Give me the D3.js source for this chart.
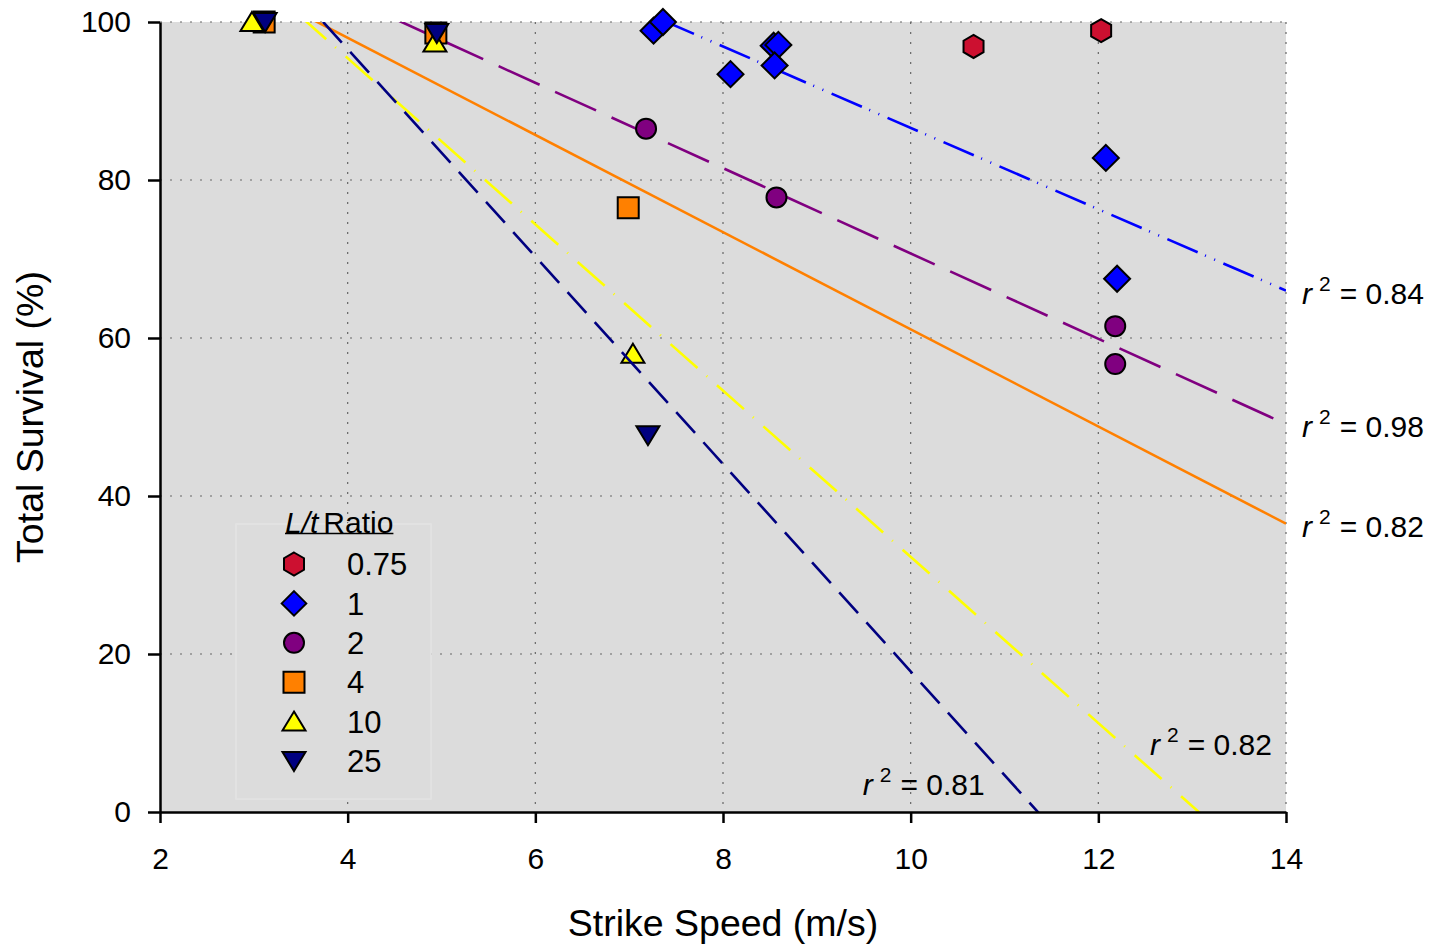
<!DOCTYPE html>
<html>
<head>
<meta charset="utf-8">
<script src="https://cdn.jsdelivr.net/npm/d3@7"></script>
<style>
body{margin:0;background:#fff;}
text{font-family:Arial,"Liberation Sans",sans-serif;fill:#000;}
</style>
</head>
<body>
<div id="graph"></div>
<script>
// L/t ratio groups
var ratios = ['0.75', '1', '2', '4', '10', '25']

// [strike speed (m/s), total survival (%)]
var pts075 = [[10.67, 96.9], [12.03, 98.9]]
var pts1 = [[7.26, 98.9], [7.36, 100], [8.08, 93.4], [8.54, 97.0], [8.59, 97.1], [8.55, 94.5], [12.08, 82.8], [12.2, 67.5]]
var pts2 = [[7.18, 86.5], [8.57, 77.8], [12.18, 61.5], [12.18, 56.7]]
var pts4 = [[3.11, 100], [4.94, 98.6], [6.99, 76.5]]
var pts10 = [[2.98, 100], [4.93, 97.4], [7.04, 58.0]]
var pts25 = [[3.12, 100], [4.95, 98.6], [7.2, 47.7]]

// linear fits (none for 0.75)
var fitIntercept = [null, 138.1, 124.7, 122.6, 137.5, 149.1]
var fitSlope = [null, -5.15, -5.40, -6.15, -10.52, -13.13]
var r2 = [null, 0.84, 0.98, 0.82, 0.82, 0.81]
// where the two lower r2 labels sit (data units); others go at the line end
var r2LabelAt = [null, null, null, null, [12.55, 7.2], [9.49, 2.15]]

var xTicks = [2, 4, 6, 8, 10, 12, 14]
var yTicks = [0, 20, 40, 60, 80, 100]

var colors = ['#cc1030', '#0000ff', '#800080', '#ff8000', '#ffff00', '#000080']
var shapes = ['hexagon', 'diamond', 'circle', 'square', 'up', 'down']
var dashes = [null, '33,8,1,9,1,9', '45,17', null, '36,12,1,13', '28,12.5']

var series = ratios.map((r, i) => ({
	i, ratio: r,
	pts: [pts075, pts1, pts2, pts4, pts10, pts25][i],
	a: fitIntercept[i], b: fitSlope[i], r2: r2[i], at: r2LabelAt[i],
	color: colors[i], shape: shapes[i], dash: dashes[i]
}))

var W = 1439, H = 946
var m = {top: 22, left: 160, right: 153, bottom: 134}
var width = W - m.left - m.right
var height = H - m.top - m.bottom

var svg = d3.select('#graph').append('svg').attr('width', W).attr('height', H)
var g = svg.append('g').attr('transform', `translate(${m.left},${m.top})`)

var x = d3.scaleLinear().domain([2, 14]).range([0, width])
var y = d3.scaleLinear().domain([0, 100]).range([height, 0])

g.append('rect').attr('width', width).attr('height', height).attr('fill', '#dcdcdc')

// dotted grid
g.selectAll('line.gx').data(xTicks.slice(1)).join('line')
	.attr('x1', d => x(d)).attr('x2', d => x(d)).attr('y1', 0).attr('y2', height)
	.attr('stroke', '#666').attr('stroke-width', 1.2).attr('stroke-dasharray', '2,8')
g.selectAll('line.gy').data(yTicks.slice(1)).join('line')
	.attr('x1', 0).attr('x2', width).attr('y1', d => y(d)).attr('y2', d => y(d))
	.attr('stroke', '#666').attr('stroke-width', 1.2).attr('stroke-dasharray', '2,8')

svg.append('clipPath').attr('id', 'clip').append('rect').attr('width', width).attr('height', height)

function shapePath(s){
	if (s == 'hexagon') return 'M0,-11.5L10,-5.75L10,5.75L0,11.5L-10,5.75L-10,-5.75Z'
	if (s == 'diamond') return 'M0,-13L13,0L0,13L-13,0Z'
	if (s == 'circle') return 'M10,0A10,10 0 1,1 -10,0A10,10 0 1,1 10,0Z'
	if (s == 'square') return 'M-10.5,-10.5H10.5V10.5H-10.5Z'
	if (s == 'up') return 'M0,-10L11.5,9L-11.5,9Z'
	return 'M0,10L11.5,-9L-11.5,-9Z'
}

var fitLine = d3.line().x(d => x(d[0])).y(d => y(d[1]))

series.forEach(s => {
	if (s.a != null){
		g.append('path')
			.attr('clip-path', 'url(#clip)')
			.attr('d', fitLine([[2, s.a + s.b*2], [14, s.a + s.b*14]]))
			.attr('fill', 'none').attr('stroke', s.color).attr('stroke-width', 2.6)
			.attr('stroke-dasharray', s.dash)
	}
	g.selectAll(null).data(s.pts).join('path')
		.attr('transform', d => `translate(${x(d[0])},${y(d[1])})`)
		.attr('d', shapePath(s.shape))
		.attr('fill', s.color).attr('stroke', '#000').attr('stroke-width', 2)
})

// r2 labels
series.filter(d => d.r2 != null).forEach(s => {
	var px = s.at ? x(s.at[0]) : width + 16
	var py = s.at ? y(s.at[1]) : y(s.a + s.b*14) + 13
	var t = g.append('text').attr('x', px).attr('y', py).attr('font-size', 30)
	t.append('tspan').attr('font-style', 'italic').text('r')
	t.append('tspan').attr('font-size', 21).attr('dx', 7).attr('dy', -13).text('2')
	t.append('tspan').attr('dx', 9).attr('dy', 13).text('= ' + s.r2.toFixed(2))
})

// axes
var yAxis = g.append('g').call(d3.axisLeft(y).tickValues(yTicks).tickSize(12).tickSizeOuter(0).tickPadding(17))
var xAxis = g.append('g').attr('transform', `translate(0,${height})`)
	.call(d3.axisBottom(x).tickValues(xTicks).tickSize(11).tickSizeOuter(0).tickPadding(25))
;[xAxis, yAxis].forEach(a => {
	a.select('.domain').attr('stroke', '#000').attr('stroke-width', 2.5)
	a.selectAll('.tick line').attr('stroke', '#000').attr('stroke-width', 2.5)
	a.selectAll('.tick text').attr('font-size', 30).attr('font-family', 'Arial, "Liberation Sans", sans-serif')
})

g.append('text').attr('x', width/2).attr('y', H - m.top - 10)
	.attr('text-anchor', 'middle').attr('font-size', 37.5).text('Strike Speed (m/s)')
g.append('text').attr('transform', `translate(${43 - m.left},${height/2}) rotate(-90)`)
	.attr('text-anchor', 'middle').attr('font-size', 37.5).text('Total Survival (%)')

// legend
var lg = svg.append('g').attr('transform', 'translate(236,524)')
lg.append('rect').attr('width', 195).attr('height', 275)
	.attr('fill', '#dcdcdc').attr('stroke', '#e3e3e3').attr('stroke-width', 1.5)

var title = lg.append('text').attr('x', 49).attr('y', 9).attr('font-size', 30)
title.append('tspan').attr('font-style', 'italic').text('L/t')
title.append('tspan').attr('dx', 5).text('Ratio')
var tw = title.node().getComputedTextLength() + 5
lg.append('line').attr('x1', 49).attr('x2', 49 + tw).attr('y1', 9.5).attr('y2', 9.5)
	.attr('stroke', '#000').attr('stroke-width', 1.5)

var rows = lg.selectAll('g.row').data(series).join('g')
	.attr('transform', (d, i) => `translate(58,${40 + i*39.4})`)
rows.append('path').attr('d', d => shapePath(d.shape))
	.attr('fill', d => d.color).attr('stroke', '#000').attr('stroke-width', 2)
	.attr('transform', d => d.shape == 'diamond' ? 'scale(0.95)' : null)
rows.append('text').attr('x', 53).attr('dy', '0.36em').attr('font-size', 31).text(d => d.ratio)
</script>
</body>
</html>
